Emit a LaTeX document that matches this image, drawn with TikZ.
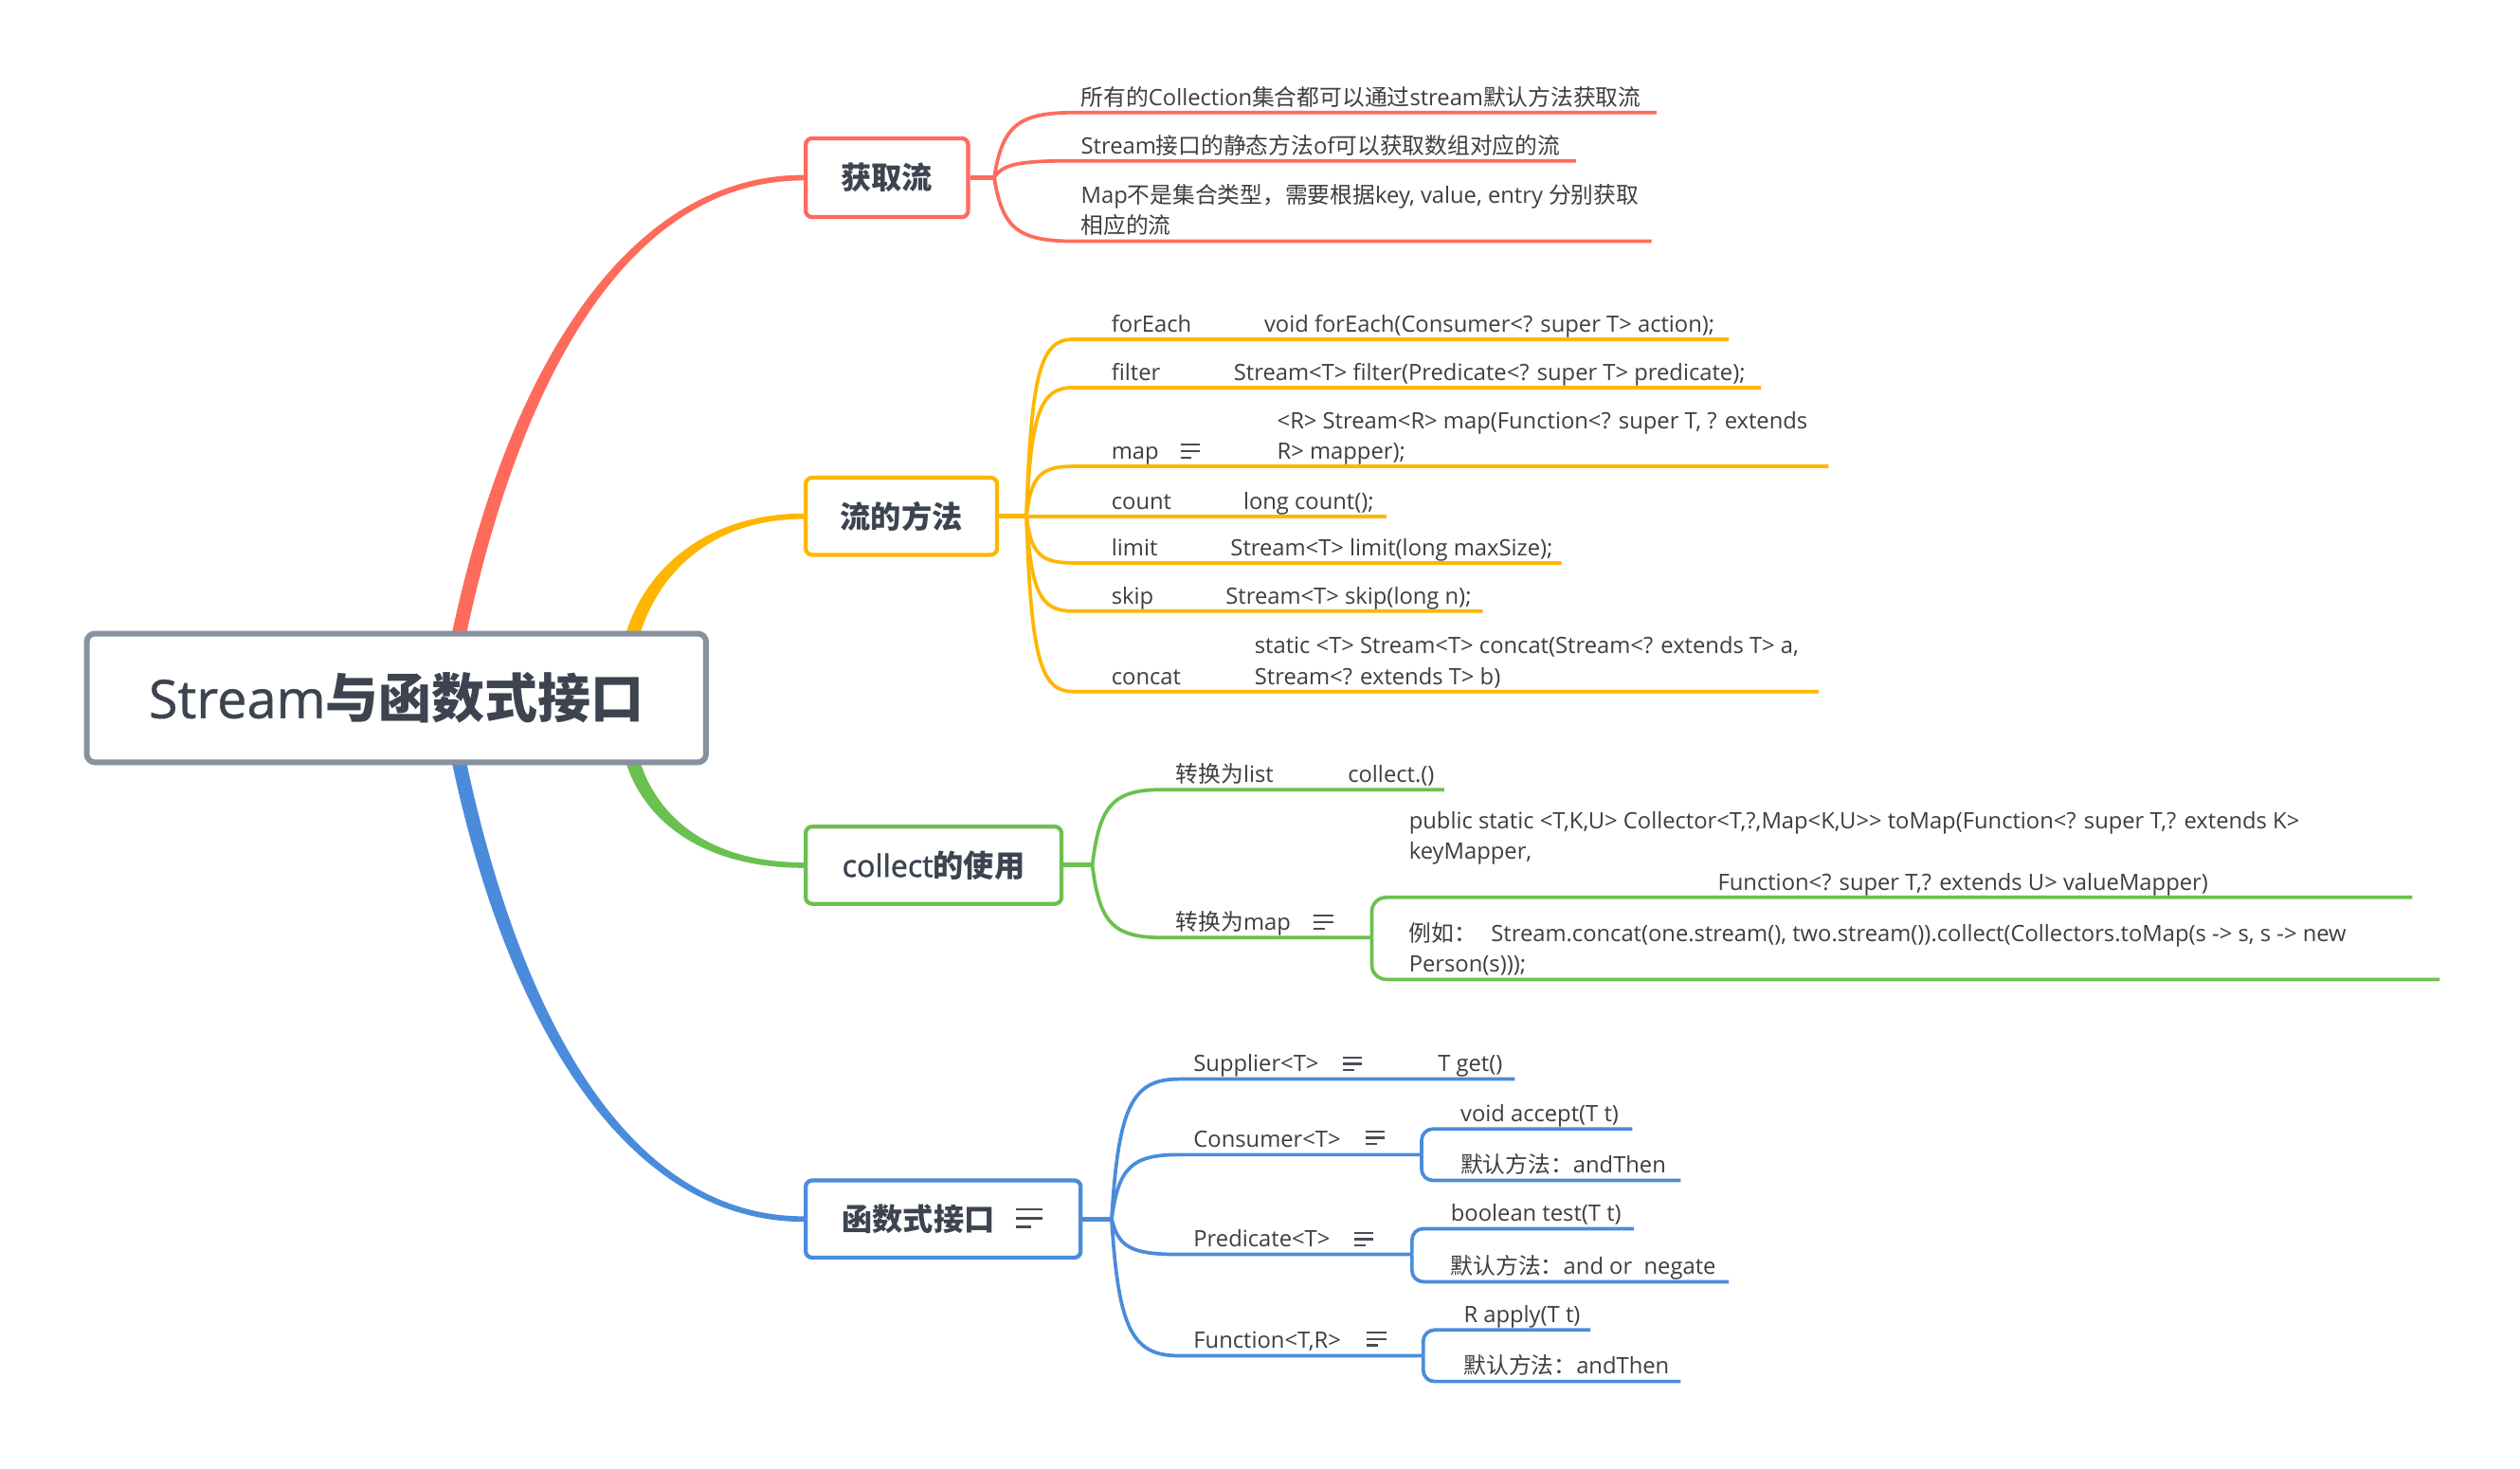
\documentclass[tikz,border=0pt]{standalone}
\usepackage{fontspec}
\usetikzlibrary{calc}
\newfontfamily\osans{Open Sans}
\newfontfamily\osemi{Open Sans}[FakeBold=1.5]
\newfontfamily\omed{Open Sans}[FakeBold=0.8]
\newfontfamily\cjk{Noto Sans CJK SC}
\newcommand\zh[1]{{\cjk #1}}
\definecolor{cred}{RGB}{255,107,91}
\definecolor{cyel}{RGB}{255,182,0}
\definecolor{cgrn}{RGB}{106,193,80}
\definecolor{cblu}{RGB}{74,140,219}
\definecolor{cgray}{RGB}{135,146,161}
\definecolor{ctxt}{RGB}{62,62,62}
\definecolor{chead}{RGB}{61,68,80}
\definecolor{cicon}{RGB}{72,77,84}
\pgfdeclarelayer{bg}
\pgfsetlayers{bg,main}
\tikzset{
  txt/.style={anchor=base west,inner sep=0pt,font=\osans\fontsize{14}{19}\selectfont,text=ctxt},
  topic/.style={draw=#1,line width=2.5pt,rounded corners=4pt,fill=white,text=chead,inner sep=0pt,font=\fontsize{19}{23}\selectfont},
  uline/.style={draw=#1,line width=2.2pt},
  stub/.style={draw=#1,line width=3pt},
  brk/.style={draw=#1,line width=2.2pt,rounded corners=9pt},
  fork/.style={to path={let \p1=(\tikztostart),\p2=(\tikztotarget) in
     .. controls (\x1+0.1*\x2-0.1*\x1,\y2+0.2*\y1-0.2*\y2) and (\x1+0.3*\x2-0.3*\x1,\y2) .. (\tikztotarget)}},
  menuicon/.pic={\draw[cicon,line width=1.3pt] (-6,-4) -- (6,-4) (-6,0) -- (6,0) (-6,4) -- (1,4);},
  bigicon/.pic={\draw[cicon,line width=1.6pt] (-8,-5.5) -- (8,-5.5) (-8,0) -- (8,0) (-8,5.5) -- (1,5.5);}
}
\begin{document}
\begin{tikzpicture}[x=1pt,y=-1pt]
\begin{pgfonlayer}{bg}
\fill[white] (0,0) rectangle (1567,913);
\end{pgfonlayer}
\useasboundingbox (0,0) rectangle (1567,913);

% ---------- nodes: root and main topics ----------
\node[draw=cgray,line width=3.5pt,rounded corners=5pt,fill=white,minimum width=385pt,minimum height=80pt,inner sep=0pt,text=chead] (root) at (246.5,434)
  {\fontsize{33}{40}\selectfont\omed Stream\cjk\bfseries 与函数式接口};
\node[topic=cred,minimum width=101pt,minimum height=49pt] (b1) at (551.5,110.5) {\cjk\bfseries 获取流};
\node[topic=cyel,minimum width=119pt,minimum height=48pt] (b2) at (560.5,321) {\cjk\bfseries 流的方法};
\node[topic=cgrn,minimum width=159pt,minimum height=48pt] (b3) at (580.5,538) {\osemi collect\cjk\bfseries 的使用};
\node[topic=cblu,minimum width=171pt,minimum height=48pt] (b4) at (586.5,758) {\cjk\bfseries 函数式接口\kern31pt};
\pic at (640,757.5) {bigicon};

\coordinate (rR) at ($(root.north west)+(233,0)$);
\coordinate (rY) at ($(root.north west)+(341,0)$);
\coordinate (rG) at ($(root.south west)+(341,0)$);
\coordinate (rB) at ($(root.south west)+(233,0)$);

\begin{pgfonlayer}{bg}
\fill[cred] ([xshift=-4.5pt,yshift=-3pt]rR) .. controls (315.5,230) and (390,108.8) .. ([yshift=1.7pt]b1.west)
  -- ([yshift=-1.7pt]b1.west) .. controls (392,112.2) and (324.5,232) .. ([xshift=4.5pt,yshift=-3pt]rR) -- cycle;
\fill[cyel] ([xshift=-4.5pt,yshift=-3pt]rY) .. controls (401,353) and (440,319.3) .. ([yshift=1.7pt]b2.west)
  -- ([yshift=-1.7pt]b2.west) .. controls (442,322.7) and (409,357) .. ([xshift=4.5pt,yshift=-3pt]rY) -- cycle;
\fill[cgrn] ([xshift=-4.5pt,yshift=3pt]rG) .. controls (401,513) and (440,539.7) .. ([yshift=-1.7pt]b3.west)
  -- ([yshift=1.7pt]b3.west) .. controls (442,536.3) and (409,509) .. ([xshift=4.5pt,yshift=3pt]rG) -- cycle;
\fill[cblu] ([xshift=-4.5pt,yshift=3pt]rB) .. controls (315.5,638) and (390,759.7) .. ([yshift=-1.7pt]b4.west)
  -- ([yshift=1.7pt]b4.west) .. controls (392,756.3) and (324.5,636) .. ([xshift=4.5pt,yshift=3pt]rB) -- cycle;
\end{pgfonlayer}

% ---------- 获取流 ----------
\draw[stub=cred] (b1.east) -- ++(15,0) coordinate (f1);
\coordinate (u11) at (668,70);  \coordinate (u12) at (668,100); \coordinate (u13) at (668,150);
\draw[uline=cred] (f1) to[fork] (u11) -- (1030,70);
\draw[uline=cred] (f1) to[fork] (u12) -- (980,100);
\draw[uline=cred] (f1) to[fork] (u13) -- (1027,150);
\node[txt] (t11) at (672,65.5) {\zh{所有的}Collection\zh{集合都可以通过}stream\zh{默认方法获取流}};
\node[txt] (t12) at (672,95.5) {Stream\zh{接口的静态方法}of\zh{可以获取数组对应的流}};
\node[txt] (t13a) at (672,126.5) {Map\zh{不是集合类型，需要根据}key, value, entry \zh{分别获取}};
\node[txt] (t13b) at (672,145.5) {\zh{相应的流}};

% ---------- 流的方法 ----------
\draw[stub=cyel] (b2.east) -- ++(17,0) coordinate (f2);
\coordinate (u21) at (667,211); \coordinate (u22) at (667,241); \coordinate (u23) at (667,290);
\coordinate (u24) at (667,321); \coordinate (u25) at (667,350); \coordinate (u26) at (667,380);
\coordinate (u27) at (667,430);
\draw[uline=cyel] (f2) to[fork] (u21) -- (1075,211);
\draw[uline=cyel] (f2) to[fork] (u22) -- (1095,241);
\draw[uline=cyel] (f2) to[fork] (u23) -- (1137,290);
\draw[uline=cyel] (f2) -- (u24) -- (862,321);
\draw[uline=cyel] (f2) to[fork] (u25) -- (971,350);
\draw[uline=cyel] (f2) to[fork] (u26) -- (922,380);
\draw[uline=cyel] (f2) to[fork] (u27) -- (1131,430);
\node[txt] (l21) at (691,206.5) {forEach};
\node[txt] (d21) at (786,206.5) {void forEach(Consumer<? super T> action);};
\node[txt] (l22) at (691,236.5) {filter};
\node[txt] (d22) at (767,236.5) {Stream<T> filter(Predicate<? super T> predicate);};
\node[txt] (l23) at (691,285.5) {map};
\pic at (740,280.5) {menuicon};
\node[txt] (d23a) at (794,266.5) {<R> Stream<R> map(Function<? super T, ? extends};
\node[txt] (d23b) at (794,285.5) {R> mapper);};
\node[txt] (l24) at (691,316.5) {count};
\node[txt] (d24) at (773,316.5) {long count();};
\node[txt] (l25) at (691,345.5) {limit};
\node[txt] (d25) at (765,345.5) {Stream<T> limit(long maxSize);};
\node[txt] (l26) at (691,375.5) {skip};
\node[txt] (d26) at (762,375.5) {Stream<T> skip(long n);};
\node[txt] (l27) at (691,425.5) {concat};
\node[txt] (d27a) at (780,406.5) {static <T> Stream<T> concat(Stream<? extends T> a,};
\node[txt] (d27b) at (780,425.5) {Stream<? extends T> b)};

% ---------- collect的使用 ----------
\draw[stub=cgrn] (b3.east) -- ++(18,0) coordinate (f3);
\coordinate (u31) at (723,491); \coordinate (u32) at (723,583);
\draw[uline=cgrn] (f3) to[fork] (u31) -- (898,491);
\draw[uline=cgrn] (f3) to[fork] (u32) -- (853,583) coordinate (k3);
\draw[brk=cgrn] (k3) |- (1500,558);
\draw[brk=cgrn] (k3) |- (1517,609);
\node[txt] (l31) at (731,486.5) {\zh{转换为}list};
\node[txt] (d31) at (838,486.5) {collect.()};
\node[txt] (l32) at (731,578.5) {\zh{转换为}map};
\pic at (823,573.5) {menuicon};
\node[txt] (d32a) at (876,515.5) {public static <T,K,U> Collector<T,?,Map<K,U>> toMap(Function<? super T,? extends K>};
\node[txt] (d32b) at (876,534.5) {keyMapper,};
\node[txt] (d32c) at (1068,553.5) {Function<? super T,? extends U> valueMapper)};
\node[txt] (d33a) at (876,585.5) {\zh{例如：}};
\node[txt] (d33b) at (927,585.5) {Stream.concat(one.stream(), two.stream()).collect(Collectors.toMap(s -> s, s -> new};
\node[txt] (d33c) at (876,604.5) {Person(s)));};

% ---------- 函数式接口 ----------
\draw[stub=cblu] (b4.east) -- ++(18,0) coordinate (f4);
\coordinate (u41) at (733,671); \coordinate (u42) at (733,718);
\coordinate (u43) at (733,780); \coordinate (u44) at (733,843);
\draw[uline=cblu] (f4) to[fork] (u41) -- (942,671);
\draw[uline=cblu] (f4) to[fork] (u42) -- (884,718) coordinate (k42);
\draw[uline=cblu] (f4) to[fork] (u43) -- (878,780) coordinate (k43);
\draw[uline=cblu] (f4) to[fork] (u44) -- (885,843) coordinate (k44);
\draw[brk=cblu,rounded corners=7pt] (k42) |- (1015,702);
\draw[brk=cblu,rounded corners=7pt] (k42) |- (1045,734);
\draw[brk=cblu,rounded corners=7pt] (k43) |- (1016,764);
\draw[brk=cblu,rounded corners=7pt] (k43) |- (1075,797);
\draw[brk=cblu,rounded corners=7pt] (k44) |- (989,827);
\draw[brk=cblu,rounded corners=7pt] (k44) |- (1045,859);
\node[txt] (l41) at (742,666.5) {Supplier<T>};
\pic at (841,661.5) {menuicon};
\node[txt] (d41) at (894,666.5) {T get()};
\node[txt] (l42) at (742,713.5) {Consumer<T>};
\pic at (855,707.5) {menuicon};
\node[txt] (d42a) at (908,697.5) {void accept(T t)};
\node[txt] (d42b) at (908,729.5) {\zh{默认方法：}andThen};
\node[txt] (l43) at (742,775.5) {Predicate<T>};
\pic at (848,770.5) {menuicon};
\node[txt] (d43a) at (902,759.5) {boolean test(T t)};
\node[txt] (d43b) at (902,792.5) {\zh{默认方法：}and or\ \ negate};
\node[txt] (l44) at (742,838.5) {Function<T,R>};
\pic at (856,832.5) {menuicon};
\node[txt] (d44a) at (910,822.5) {R apply(T t)};
\node[txt] (d44b) at (910,854.5) {\zh{默认方法：}andThen};
\end{tikzpicture}
\end{document}
